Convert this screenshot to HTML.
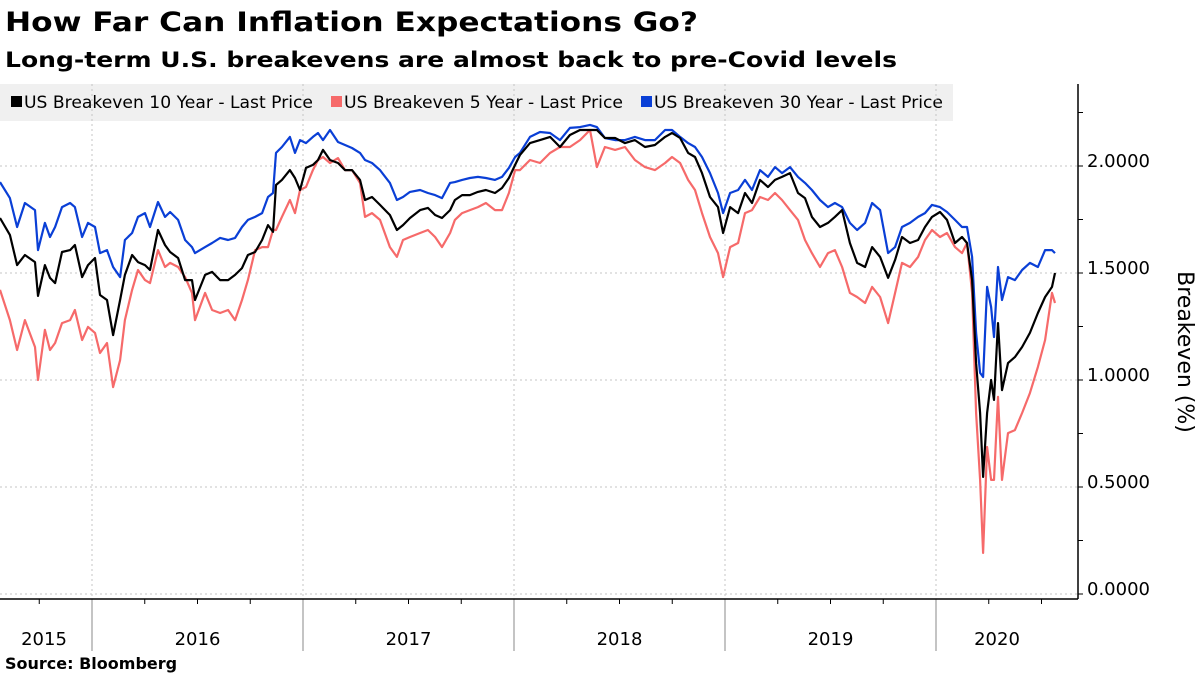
<!DOCTYPE html>
<html><head><meta charset="utf-8"><style>
html,body{margin:0;padding:0;background:#fff;}
svg{display:block;font-family:"DejaVu Sans","Liberation Sans",sans-serif;}
</style></head><body>
<svg id="chart" width="1200" height="675" viewBox="0 0 1200 675" xmlns="http://www.w3.org/2000/svg">
<text x="5" y="31" font-size="27" font-weight="bold" textLength="693" lengthAdjust="spacingAndGlyphs">How Far Can Inflation Expectations Go?</text>
<text x="5" y="67" font-size="21" font-weight="bold" textLength="892" lengthAdjust="spacingAndGlyphs">Long-term U.S. breakevens are almost back to pre-Covid levels</text>
<g>
<rect x="0" y="84" width="953" height="37" fill="#f0f0f0"/>
<g><rect x="11" y="96" width="11" height="11" fill="#000"/><text x="24" y="108" font-size="16.5" textLength="289" lengthAdjust="spacingAndGlyphs">US Breakeven 10 Year - Last Price</text></g>
<g><rect x="331" y="96" width="11" height="11" fill="#f66a6a"/><text x="344" y="108" font-size="16.5" textLength="279" lengthAdjust="spacingAndGlyphs">US Breakeven 5 Year - Last Price</text></g>
<g><rect x="641" y="96" width="11" height="11" fill="#0a3fd6"/><text x="654" y="108" font-size="16.5" textLength="289" lengthAdjust="spacingAndGlyphs">US Breakeven 30 Year - Last Price</text></g>
</g>
<g id="grid"></g>
<g id="series"></g>
<g id="axes"></g>
<text transform="translate(1178,352) rotate(90)" text-anchor="middle" font-size="22">Breakeven (%)</text>
<text x="5" y="669" font-size="16" font-weight="bold">Source:  Bloomberg</text>
</svg>
<script>
const dates=[2015.564,2015.611,2015.645,2015.682,2015.730,2015.744,2015.777,2015.801,2015.825,2015.858,2015.896,2015.919,2015.953,2015.981,2016.014,2016.038,2016.071,2016.100,2016.133,2016.156,2016.190,2016.218,2016.251,2016.275,2016.313,2016.346,2016.370,2016.408,2016.441,2016.474,2016.488,2016.536,2016.569,2016.607,2016.645,2016.678,2016.711,2016.739,2016.773,2016.806,2016.834,2016.858,2016.872,2016.900,2016.938,2016.962,2016.986,2017.014,2017.047,2017.071,2017.095,2017.128,2017.166,2017.199,2017.232,2017.270,2017.294,2017.327,2017.365,2017.412,2017.445,2017.474,2017.507,2017.555,2017.592,2017.626,2017.659,2017.697,2017.720,2017.754,2017.791,2017.829,2017.867,2017.910,2017.943,2017.976,2018.005,2018.028,2018.076,2018.123,2018.171,2018.218,2018.265,2018.313,2018.360,2018.393,2018.431,2018.479,2018.526,2018.573,2018.621,2018.668,2018.716,2018.749,2018.787,2018.825,2018.858,2018.891,2018.929,2018.967,2018.991,2019.024,2019.062,2019.095,2019.128,2019.166,2019.204,2019.237,2019.270,2019.308,2019.346,2019.379,2019.412,2019.450,2019.488,2019.521,2019.555,2019.592,2019.626,2019.664,2019.697,2019.735,2019.773,2019.806,2019.839,2019.877,2019.915,2019.948,2019.981,2020.019,2020.052,2020.090,2020.123,2020.147,2020.171,2020.190,2020.209,2020.223,2020.242,2020.261,2020.275,2020.294,2020.313,2020.341,2020.374,2020.408,2020.445,2020.483,2020.517,2020.550,2020.564];
const be10=[1.757,1.678,1.537,1.584,1.551,1.393,1.537,1.477,1.453,1.598,1.607,1.631,1.481,1.537,1.570,1.397,1.374,1.210,1.374,1.491,1.584,1.551,1.537,1.514,1.701,1.631,1.598,1.570,1.467,1.467,1.374,1.491,1.505,1.467,1.467,1.491,1.523,1.584,1.598,1.654,1.724,1.692,1.911,1.935,1.981,1.944,1.888,1.991,2.005,2.028,2.075,2.028,2.014,1.981,1.981,1.935,1.841,1.855,1.818,1.771,1.701,1.724,1.757,1.794,1.804,1.771,1.757,1.794,1.841,1.864,1.864,1.879,1.888,1.874,1.897,1.944,2.005,2.051,2.107,2.121,2.136,2.089,2.145,2.168,2.168,2.168,2.131,2.131,2.107,2.121,2.089,2.098,2.136,2.154,2.131,2.061,2.042,1.967,1.855,1.808,1.687,1.808,1.780,1.874,1.827,1.935,1.902,1.935,1.949,1.967,1.874,1.850,1.762,1.715,1.734,1.762,1.794,1.640,1.547,1.528,1.621,1.575,1.477,1.561,1.668,1.640,1.654,1.715,1.762,1.785,1.748,1.640,1.668,1.640,1.467,1.079,0.846,0.547,0.846,1.000,0.907,1.266,0.953,1.079,1.107,1.154,1.220,1.313,1.388,1.435,1.500];
const be5=[1.421,1.280,1.140,1.280,1.154,1.000,1.234,1.140,1.173,1.266,1.280,1.327,1.187,1.248,1.220,1.126,1.173,0.967,1.093,1.280,1.421,1.514,1.467,1.453,1.607,1.528,1.547,1.528,1.481,1.407,1.280,1.407,1.327,1.313,1.327,1.280,1.374,1.467,1.607,1.621,1.621,1.701,1.701,1.762,1.841,1.780,1.888,1.902,1.981,2.028,2.042,2.014,2.037,1.981,1.981,1.921,1.762,1.780,1.748,1.621,1.575,1.654,1.668,1.687,1.701,1.668,1.621,1.687,1.748,1.780,1.794,1.808,1.827,1.794,1.794,1.874,1.981,1.981,2.028,2.014,2.061,2.089,2.089,2.121,2.168,1.995,2.089,2.075,2.089,2.028,1.995,1.981,2.014,2.042,2.014,1.935,1.888,1.780,1.668,1.593,1.481,1.621,1.640,1.780,1.794,1.855,1.841,1.874,1.841,1.794,1.748,1.654,1.593,1.528,1.593,1.607,1.528,1.407,1.388,1.360,1.435,1.388,1.266,1.407,1.547,1.528,1.575,1.654,1.701,1.668,1.687,1.621,1.593,1.640,1.407,0.846,0.533,0.192,0.687,0.533,0.533,0.921,0.533,0.752,0.766,0.846,0.939,1.061,1.187,1.407,1.360];
const be30=[1.925,1.850,1.715,1.827,1.794,1.607,1.734,1.668,1.715,1.808,1.827,1.808,1.668,1.734,1.715,1.593,1.607,1.528,1.481,1.654,1.687,1.762,1.780,1.715,1.832,1.762,1.785,1.748,1.654,1.621,1.593,1.621,1.640,1.664,1.654,1.664,1.715,1.748,1.762,1.780,1.855,1.874,2.061,2.089,2.136,2.061,2.121,2.107,2.136,2.154,2.121,2.168,2.112,2.098,2.084,2.061,2.028,2.014,1.981,1.921,1.841,1.855,1.879,1.888,1.874,1.864,1.850,1.921,1.925,1.935,1.944,1.949,1.944,1.935,1.949,1.991,2.042,2.061,2.136,2.159,2.154,2.121,2.178,2.182,2.192,2.182,2.131,2.121,2.121,2.136,2.121,2.121,2.168,2.168,2.136,2.107,2.089,2.042,1.967,1.874,1.780,1.874,1.888,1.935,1.888,1.981,1.949,1.995,1.967,1.995,1.949,1.921,1.888,1.841,1.808,1.827,1.808,1.734,1.701,1.734,1.827,1.794,1.593,1.621,1.715,1.734,1.762,1.780,1.818,1.808,1.785,1.748,1.715,1.715,1.575,1.220,1.033,1.014,1.435,1.341,1.201,1.528,1.374,1.481,1.467,1.514,1.547,1.528,1.607,1.607,1.593];
const yTicks=[0,0.5,1.0,1.5,2.0];
const yTickLabels=["0.0000","0.5000","1.0000","1.5000","2.0000"];
const years=[2015,2016,2017,2018,2019,2020];

const NS="http://www.w3.org/2000/svg";
const X0=0,X1=1078,YTOP=84,YBOT=599;
function xs(t){return 92+(t-2016)*211;}
function ys(v){return 594-v*214;}
function mk(tag,attrs,parent){const e=document.createElementNS(NS,tag);for(const k in attrs)e.setAttribute(k,attrs[k]);parent.appendChild(e);return e;}
const grid=document.getElementById('grid'),axes=document.getElementById('axes'),series=document.getElementById('series');
yTicks.forEach((v,i)=>{
  const g=mk('line',{x1:X0,x2:X1,y1:ys(v),y2:ys(v),stroke:'#c4c4c4','stroke-dasharray':'2,3','stroke-width':1},grid);
  
  
  const t=mk('text',{x:1087,y:ys(v)+1,'font-size':18},axes);
  t.textContent=yTickLabels[i];
  
  
});
for(let v=0;v<=2.25;v+=0.25){
  const tk=mk('line',{x1:X1,x2:X1+5,y1:ys(v),y2:ys(v),stroke:'#000','stroke-width':1},axes);
  
  
}
years.forEach(yr=>{
  if(yr>2015){
    const gl=mk('line',{x1:xs(yr),x2:xs(yr),y1:YTOP,y2:YBOT,stroke:'#c4c4c4','stroke-dasharray':'2,3','stroke-width':1},grid);
    
    
    const sep=mk('line',{x1:xs(yr),x2:xs(yr),y1:YBOT,y2:651,stroke:'#888','stroke-width':1},axes);
    
    
  }
  for(let q=1;q<4;q++){
    const qx=xs(yr+q/4);
    if(qx>X0&&qx<X1){
      const qt=mk('line',{x1:qx,x2:qx,y1:YBOT,y2:YBOT+5,stroke:'#000','stroke-width':1},axes);
      
      
    }
  }
  const left=Math.max(X0,xs(yr)),right=Math.min(X1-20,xs(yr+1));
  const lab=mk('text',{x:(left+right)/2+(yr===2015?-2:0),y:645,'font-size':18,'text-anchor':'middle'},axes);
  lab.textContent=String(yr);
  
  
});
const ax=mk('line',{x1:X0,x2:X1,y1:YBOT,y2:YBOT,stroke:'#000','stroke-width':1.5},axes);


const ay=mk('line',{x1:X1,x2:X1,y1:YTOP,y2:YBOT,stroke:'#000','stroke-width':1.5},axes);


function drawLine(vals,color,name){
  const d=vals.map((v,i)=>(i?'L':'M')+xs(dates[i]).toFixed(1)+','+ys(v).toFixed(1)).join('');
  const p=mk('path',{d:d,fill:'none',stroke:color,'stroke-width':2.2,'stroke-linejoin':'round'},series);
  
  
}
drawLine(be5,'#f66a6a','line-breakeven-5y');
drawLine(be30,'#0a3fd6','line-breakeven-30y');
drawLine(be10,'#000000','line-breakeven-10y');
</script>
</body></html>
